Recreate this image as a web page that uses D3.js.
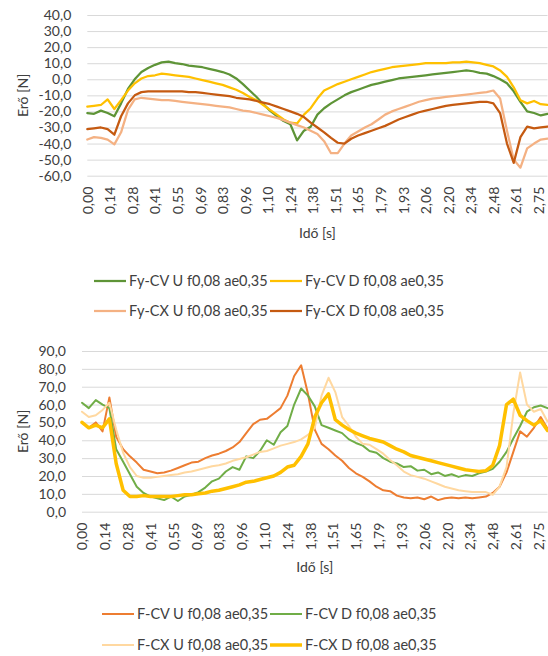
<!DOCTYPE html>
<html><head><meta charset="utf-8">
<script src="https://cdn.jsdelivr.net/npm/d3@7"></script>
<style>
html,body{margin:0;padding:0;background:#fff;}
svg{display:block;font-family:Lato,"Open Sans",sans-serif;}
</style></head>
<body>
<svg id="c" width="548" height="656"></svg>
<script>
// ---- data (time in s, force in N) ----
const timeS = [0.000,0.041,0.083,0.124,0.165,0.206,0.248,0.289,0.330,0.371,0.413,0.454,0.495,0.536,0.578,0.619,0.660,0.702,0.743,0.784,0.825,0.867,0.908,0.949,0.990,1.032,1.073,1.114,1.156,1.197,1.238,1.279,1.321,1.362,1.403,1.444,1.486,1.527,1.568,1.609,1.651,1.692,1.733,1.775,1.816,1.857,1.898,1.940,1.981,2.022,2.063,2.105,2.146,2.187,2.228,2.270,2.311,2.352,2.393,2.435,2.476,2.517,2.559,2.600,2.641,2.682,2.724,2.765,2.806];
const tickTimes = [0,0.1376,0.2751,0.4127,0.5502,0.6878,0.8254,0.9629,1.1005,1.2380,1.3756,1.5132,1.6507,1.7883,1.9258,2.0634,2.2010,2.3385,2.4761,2.6136,2.7512];
const tickLabels = ["0,00","0,14","0,28","0,41","0,55","0,69","0,83","0,96","1,10","1,24","1,38","1,51","1,65","1,79","1,93","2,06","2,20","2,34","2,48","2,61","2,75"];
const yTicksTop = [-60,-50,-40,-30,-20,-10,0,10,20,30,40];
const yTicksBottom = [0,10,20,30,40,50,60,70,80,90];

const fyCvU = [-21,-21.5,-19.5,-21,-23,-15,-6,0,4.5,7,9,10.5,11,10,9.5,8.5,8,7.5,6.5,5.5,4.5,3,0.5,-3,-7,-11,-15.5,-19.5,-23,-26,-28,-38,-32,-29.5,-22,-18,-15,-12.5,-10,-8,-6.5,-5,-3.5,-2.5,-1.5,-0.5,0.5,1,1.5,2,2.5,3,3.5,4,4.5,5,5.5,5,4,3.5,2,0,-2.5,-7.5,-14,-20,-21,-22.5,-21.5];
const fyCvD = [-17,-16.5,-16,-12.5,-18.5,-13,-7,-2.5,0.5,2,2.5,3.5,3,2.5,2,1.5,0.5,-0.5,-1.5,-2.5,-3.5,-5,-6.5,-8.5,-11,-13,-16,-19,-22,-25,-27,-27.5,-22,-18,-12,-7,-5,-3,-1.5,0,1.5,3,4.5,5.5,6.5,7.5,8,8.5,9,9.5,10,10,10,10,10.5,10.5,11,10.5,10,9,8,5.5,1.5,-5,-13,-15,-13.5,-15.5,-16];
const fyCxU = [-37.5,-36,-36.5,-37.5,-40.5,-33,-19,-12.5,-11.5,-12,-12.5,-13,-13,-13.5,-14,-14.5,-15,-15.5,-16,-16.5,-17,-17.5,-18.5,-19.5,-20,-21,-22,-23,-24,-25.5,-27,-28.5,-30,-32,-34,-38.5,-46,-46,-40,-35,-32.5,-30,-28,-25,-22,-20,-18.5,-17,-15.5,-14,-13,-12,-11.5,-11,-10.5,-10,-9.5,-9,-8.5,-8,-7,-12,-32,-50,-55,-43,-40,-37.5,-37];
const fyCxD = [-31,-30.5,-30,-31,-34.5,-23,-15,-10,-8,-7.5,-7.5,-7.5,-7.5,-7.5,-7.5,-8,-8,-8.5,-9,-9.5,-10,-10.5,-11.5,-12,-12.5,-13.5,-14.5,-15.5,-17,-18.5,-20,-21.5,-23.5,-27,-30,-33,-36.5,-39.5,-40,-37,-35,-33.5,-32,-30.5,-29,-27,-25,-23.5,-22,-20.5,-19.5,-18.5,-17.5,-16.5,-16,-15.5,-15,-14.5,-14,-14,-15,-21,-40,-52,-36,-29.5,-30.5,-30,-29.5];

const fCvU = [50,47,50,45,64,42,35,31,27.5,23.5,22.5,21.5,22,23,24.5,26,27.5,28,30,31.5,32.5,34,36,39,44,49,51.5,52,55,58,65,76,82,66,46,38,35,31.5,28.5,24.5,21.5,19.5,17,14,12,11.5,9,8,7.5,8,7,8.5,6.5,7.5,8,7.5,8,7.5,8,8.5,10.5,14,22,33.5,45,42,47,53,46.5];
const fCvD = [61,58,62.5,60,58,35,28,21,14,10.5,8.5,7.5,6.5,8.5,6,8.5,9.5,11,13.5,17,18.5,22.5,25,23.5,31,30,34,40,37.5,44.5,48,60,69,65,59,48.5,47,45.5,44,40.5,38.5,37,34,33,30,28,27,25,25.5,23,23.5,21,22,20,21,19.5,20.5,20,21.5,22.5,24,28,33.5,41,48,56,58.5,59.5,58];
const fCxU = [56,53,54,57,61,46,33,25,20,19,19,19.5,20,20.5,21,22,22.5,23.5,24.5,25.5,26,27,28.5,29.5,30.5,32,33.5,34,35.5,37,38,39,40.5,43,47,65,75,67,53,48,42,38,37.5,35,32.5,29,26,22.5,20.5,19.5,18.5,17,15.5,14,13,12,11.5,11,11,11,9.5,14,25,55,78,60,56,57.5,50.5];
const fCxD = [50,47,48.5,47,52,27,12,8.5,8.5,9,8.5,8.5,8.5,8.5,9,9.5,9.5,10,10.5,11.5,12,13,14,15,16.5,17,18,19,20,22,25,26,31,38,53,61,66,51.5,48.5,46,44,42.5,41,40,39,37,35,33.5,31.5,30.5,29.5,28.5,27.5,26.5,25.5,24.5,23.5,23,22.5,23,26,37,60,63,54,51,48.5,51,45.5];

const topSeries = [
  {name:"Fy-CV U f0,08 ae0,35", values:fyCvU, color:"#5E9437", w:2.25},
  {name:"Fy-CV D f0,08 ae0,35", values:fyCvD, color:"#FFC000", w:2.25},
  {name:"Fy-CX U f0,08 ae0,35", values:fyCxU, color:"#F4B183", w:2.25},
  {name:"Fy-CX D f0,08 ae0,35", values:fyCxD, color:"#C55A11", w:2.25}
];
const bottomSeries = [
  {name:"F-CV U f0,08 ae0,35", values:fCvU, color:"#ED7D31", w:2},
  {name:"F-CV D f0,08 ae0,35", values:fCvD, color:"#70AD47", w:2},
  {name:"F-CX U f0,08 ae0,35", values:fCxU, color:"#FFD8A0", w:2},
  {name:"F-CX D f0,08 ae0,35", values:fCxD, color:"#FFC000", w:3.5}
];

const svg = d3.select("#c");
const textColor = "#404040";
const fmt = d => d3.format(".1f")(d).replace(".", ",").replace("−","-");

function drawChart(cfg){
  const x = d3.scaleLinear().domain([0, timeS[timeS.length-1]]).range([cfg.x0, cfg.x1]);
  const y = d3.scaleLinear().domain(cfg.yDomain).range([cfg.y0, cfg.y1]);
  const g = svg.append("g");

  // y axis with gridlines
  const ya = g.append("g").attr("transform", `translate(${cfg.x0},0)`)
    .call(d3.axisLeft(y).tickValues(cfg.yTicks).tickFormat(fmt).tickSize(-(cfg.x1 - cfg.x0)).tickPadding(16));
  ya.select(".domain").remove();
  ya.selectAll("line").attr("stroke", "#d9d9d9").attr("stroke-width", 1);
  ya.selectAll("text").attr("fill", textColor).style("font-size", "14px").style("font-family", "Lato, 'Open Sans', sans-serif");

  // x axis (rotated category labels)
  const xa = g.append("g").attr("transform", `translate(0,${cfg.y0})`)
    .call(d3.axisBottom(x).tickValues(tickTimes).tickFormat((d,i) => tickLabels[i]).tickSize(0));
  xa.select(".domain").remove();
  xa.selectAll("text")
    .attr("transform", "rotate(-90)")
    .attr("x", -11).attr("y", 0).attr("dy", "0.35em")
    .style("text-anchor", "end")
    .attr("fill", textColor).style("font-size", "14px").style("font-family", "Lato, 'Open Sans', sans-serif");

  // lines
  const line = d3.line().x((d,i) => x(timeS[i])).y(d => y(d));
  cfg.series.forEach(s => {
    g.append("path").datum(s.values).attr("d", line)
      .attr("fill", "none").attr("stroke", s.color).attr("stroke-width", s.w)
      .attr("stroke-linejoin", "round").attr("stroke-linecap", "round");
  });

  // axis titles
  g.append("text").attr("transform", `translate(${cfg.yTitleX},${(cfg.y0+cfg.y1)/2}) rotate(-90)`)
    .attr("text-anchor", "middle").attr("dy", "0.35em").attr("fill", textColor)
    .style("font-size", "14px").text("Erő [N]");
  g.append("text").attr("x", (cfg.x0+cfg.x1)/2).attr("y", cfg.xTitleY)
    .attr("text-anchor", "middle").attr("dy", "0.35em").attr("fill", textColor)
    .style("font-size", "14px").text("Idő [s]");

  // legend (2 x 2)
  cfg.series.forEach((s, i) => {
    const col = i % 2, row = Math.floor(i / 2);
    const lx = cfg.legX[col], ly = cfg.legY[row];
    g.append("line").attr("x1", lx).attr("x2", lx + 32).attr("y1", ly).attr("y2", ly)
      .attr("stroke", s.color).attr("stroke-width", s.w);
    g.append("text").attr("x", lx + 35).attr("y", ly).attr("dy", "0.35em")
      .attr("fill", textColor).style("font-size", "14.5px").text(s.name);
  });
}

drawChart({
  x0: 87.3, x1: 547.5, y0: 175.7, y1: 15, yDomain: [-60, 40], yTicks: yTicksTop,
  series: topSeries, yTitleX: 23, xTitleY: 233, legX: [94, 270], legY: [281, 311]
});
drawChart({
  x0: 82, x1: 547.5, y0: 511.7, y1: 351, yDomain: [0, 90], yTicks: yTicksBottom,
  series: bottomSeries, yTitleX: 23, xTitleY: 567, legX: [102, 270], legY: [614, 645]
});
</script>
</body></html>
